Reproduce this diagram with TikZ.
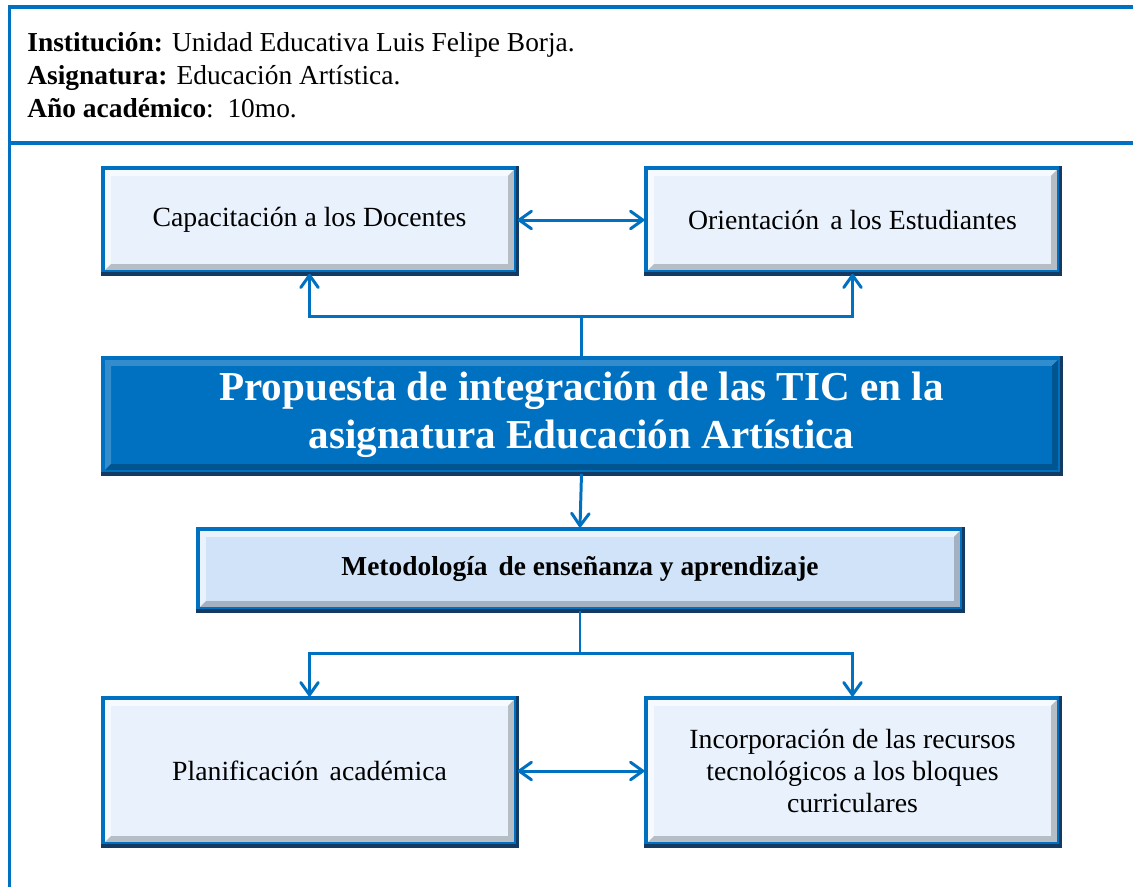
\documentclass[tikz,border=0pt]{standalone}
\usepackage{fontspec}
\setmainfont{Liberation Serif}
\usetikzlibrary{arrows.meta}
\definecolor{blue7}{HTML}{0070C0}
\definecolor{navy7}{HTML}{123A63}
\definecolor{paleblue}{HTML}{E9F2FC}
\definecolor{midblue}{HTML}{D1E3F8}

\begin{document}
\begin{tikzpicture}
  [x=0.02cm, y=-0.02cm,
   every node/.style={font=\fontsize{15.8pt}{18.2pt}\selectfont},
   frame/.style={blue7, line width=2pt},
   info/.style={anchor=base west, inner sep=0pt, font=\fontsize{15.6pt}{18.8pt}\selectfont},
   bevel/.style 2 args={path picture={
     \path (path picture bounding box.south west) coordinate (pa)
           (path picture bounding box.north east) coordinate (pb)
           (pa |- pb) coordinate (pc) (pa -| pb) coordinate (pd);
     \fill[#1] (pa) -- (pc) -- (pb) -- ([xshift=-4.5pt,yshift=-4.5pt]pb)
       -- ([xshift=4.5pt,yshift=-4.5pt]pc) -- ([xshift=4.5pt,yshift=4.5pt]pa) -- cycle;
     \fill[#2] (pa) -- (pd) -- (pb) -- ([xshift=-4.5pt,yshift=-4.5pt]pb)
       -- ([xshift=-4.5pt,yshift=4.5pt]pd) -- ([xshift=4.5pt,yshift=4.5pt]pa) -- cycle;
   }},
   lbox/.style={draw=blue7, line width=2pt, fill=paleblue, align=center,
     minimum width=8.26cm, bevel={white!60!paleblue}{black!22!paleblue}},
   mbox/.style={lbox, fill=midblue, bevel={white!55!midblue}{black!22!midblue},
     font=\bfseries\fontsize{15.6pt}{18.2pt}\selectfont},
   tbox/.style={lbox, fill=blue7, bevel={white!20!blue7}{black!25!blue7},
     text=white, font=\bfseries\fontsize{23.4pt}{27.3pt}\selectfont},
   link/.style={blue7, line width=1.7pt,
     arrows={-Straight Barb[length=7pt,width=10pt,round]}},
   both/.style={arrows={Straight Barb[length=7pt,width=10pt,round]-Straight Barb[length=7pt,width=10pt,round]}}]

  \useasboundingbox (0,0) rectangle (1133,887);

  %Outer frame of the sheet
  \draw[frame] (1133,7) -- (9.5,7) -- (9.5,887);
  \draw[frame] (9.5,143) -- (1133,143);

  %Header lines
  \node[info] (inst) at (27,51) {\textbf{Institución:} Unidad Educativa Luis Felipe Borja.};
  \node[info] (asig) at (27,84) {\textbf{Asignatura:} Educación Artística.};
  \node[info] (anio) at (27,117) {\textbf{Año académico}:\ \ 10mo.};

  %Boxes
  \node[lbox, minimum height=2.08cm] (doc) at (309.5,220) {Capacitación a los Docentes};
  \node[lbox, minimum height=2.08cm] (est) at (852.5,220) {Orientación\hspace{0.4em}a los Estudiantes};
  \node[tbox, minimum width=19.14cm, minimum height=2.28cm] (prop) at (581.5,415)
    {Propuesta de integración de las TIC en la\\asignatura Educación Artística};
  \node[mbox, minimum width=15.28cm, minimum height=1.6cm] (met) at (580,569)
    {Metodología\hspace{0.4em}de enseñanza y aprendizaje};
  \node[lbox, minimum height=2.92cm] (plan) at (309.5,771) {Planificación\hspace{0.4em}académica};
  \node[lbox, minimum height=2.92cm] (rec) at (852.5,771)
    {Incorporación de las recursos\\tecnológicos a los bloques\\curriculares};

  %Dark lower and right edges
  \foreach \n in {doc,est,prop,met,plan,rec}
    \draw[navy7, line width=2pt] (\n.south west) -- (\n.south east) -- (\n.north east);

  %Connectors
  \coordinate (jtop) at (581.5,316);
  \coordinate (jbot) at (580,653);
  \draw[link, both] (doc) -- (est);
  \draw[link, -] (prop.north) -- (jtop);
  \draw[link] (jtop) -| (doc.south);
  \draw[link] (jtop) -| (est.south);
  \draw[link] (prop.south) -- (met.north);
  \draw[link, -] (met.south) -- (jbot);
  \draw[link] (jbot) -| (plan.north);
  \draw[link] (jbot) -| (rec.north);
  \draw[link, both] (plan) -- (rec);
\end{tikzpicture}
\end{document}
